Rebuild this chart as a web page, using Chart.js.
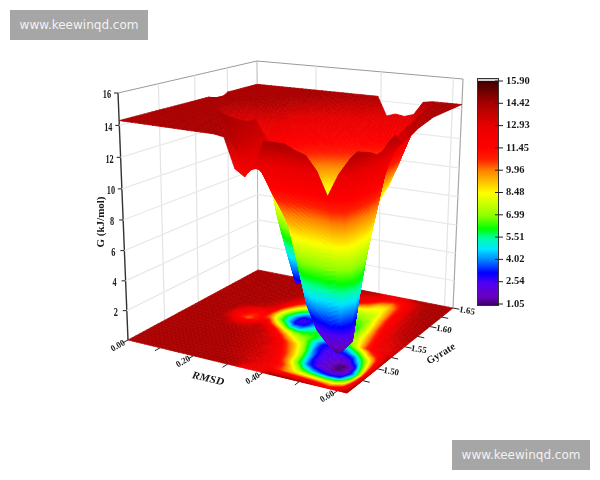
<!DOCTYPE html>
<html>
<head>
<meta charset="utf-8">
<title>G surface</title>
<script src="https://cdn.jsdelivr.net/npm/chart.js@4"></script>
<style>
    html, body { margin: 0; padding: 0; background: #fff; }
    #wrap { position: relative; width: 600px; height: 480px; overflow: hidden; }
    .mark { position: absolute; width: 138px; height: 30px; background: #a6a6a6; color: #f2f2f2;
            font: 12px/30px "DejaVu Sans", sans-serif; text-align: center; }
</style>
</head>
<body>
<div id="wrap">
    <canvas id="surfaceChart" width="600" height="480"></canvas>
    <div class="mark" style="left:10px;top:10px">www.keewinqd.com</div>
    <div class="mark" style="left:452px;top:440px">www.keewinqd.com</div>
</div>
<script>
// 축 눈금
const rmsdTicks = [0.00, 0.20, 0.40, 0.60];
const gyrateTicks = [1.50, 1.55, 1.60, 1.65];
const gTicks = [2, 4, 6, 8, 10, 12, 14, 16];
const colorbarTicks = ['15.90', '14.42', '12.93', '11.45', '9.96', '8.48', '6.99', '5.51', '4.02', '2.54', '1.05'];

// 그리드 좌표
const rmsdGrid = [0.000, 0.026, 0.052, 0.078, 0.104, 0.130, 0.156, 0.182, 0.208, 0.234, 0.260, 0.286, 0.312,
    0.339, 0.365, 0.391, 0.417, 0.443, 0.469, 0.495, 0.521, 0.547, 0.573, 0.599, 0.625];
const gyrateGrid = [1.45, 1.46, 1.47, 1.48, 1.49, 1.50, 1.51, 1.52, 1.53, 1.54, 1.55,
    1.56, 1.57, 1.58, 1.59, 1.60, 1.61, 1.62, 1.63, 1.64, 1.65];

// G 값 (행: Gyrate, 열: RMSD)
const gValues = [
    [14.3,14.3,14.3,14.3,14.3,14.3,14.3,14.3,14.3,14.3,14.3,14.3,14.2,12.4,12.0,12.8,14.3,14.3,14.3,14.0,13.8,13.0,11.6,13.0,14.0],
    [14.3,14.3,14.3,14.3,14.3,14.3,14.3,14.3,14.3,14.3,14.3,14.2,14.0,13.4,12.8,12.2,11.0,10.0,9.4,9.0,8.5,8.0,8.0,9.5,14.2],
    [14.3,14.3,14.3,14.3,14.3,14.3,14.3,14.3,14.3,14.3,14.2,14.0,13.7,13.2,13.0,12.0,10.8,8.8,6.5,4.8,3.8,3.2,3.6,6.8,14.0],
    [14.3,14.3,14.3,14.3,14.3,14.3,14.3,14.3,14.3,14.3,14.1,13.9,13.6,13.4,12.6,11.3,9.3,6.5,3.8,2.4,1.7,1.2,1.7,5.2,13.8],
    [14.3,14.3,14.3,14.3,14.3,14.3,14.3,14.3,14.3,14.2,14.0,13.8,13.4,13.0,12.0,10.5,8.6,5.5,3.0,2.2,1.6,1.05,1.8,7.0,13.5],
    [14.3,14.3,14.3,14.3,14.3,14.3,14.3,14.3,14.3,14.1,13.9,13.7,13.5,12.6,11.0,9.5,7.5,4.5,2.7,2.3,2.0,2.0,4.5,8.5,13.6],
    [14.3,14.3,14.3,14.3,14.3,14.3,14.3,14.3,14.2,14.0,13.8,13.6,13.0,11.5,10.0,8.5,6.0,3.5,2.5,2.5,2.8,4.0,6.8,9.8,14.0],
    [14.3,14.3,14.3,14.3,14.3,14.3,14.2,14.0,13.9,13.9,13.8,13.0,11.5,9.5,8.0,7.0,5.0,3.2,2.8,3.5,5.0,7.0,9.8,11.5,14.2],
    [14.3,14.3,14.3,14.3,14.3,14.1,13.0,12.5,13.0,13.9,13.0,11.0,8.8,7.2,6.6,6.5,5.5,4.5,4.5,6.0,8.0,10.5,12.0,12.6,13.6],
    [14.3,14.3,14.3,14.3,14.2,12.8,11.2,10.0,11.2,12.5,9.8,7.5,5.0,4.4,5.5,6.0,6.0,5.5,6.0,7.3,8.8,11.0,12.5,13.0,13.7],
    [14.3,14.3,14.3,14.3,14.2,12.6,11.6,10.8,11.4,9.8,7.0,4.8,2.8,3.0,4.5,5.5,6.0,6.0,6.3,7.5,9.5,11.5,12.8,13.3,13.8],
    [14.3,14.3,14.3,14.3,14.3,13.4,12.4,12.0,11.8,9.0,6.5,4.5,2.7,2.9,4.5,5.5,6.0,6.0,6.2,7.8,10.0,12.0,13.2,13.7,14.0],
    [14.3,14.3,14.3,14.3,14.3,14.3,14.0,13.6,12.8,9.6,7.3,5.5,4.2,4.2,5.2,5.5,6.0,6.2,6.6,8.2,10.6,12.5,13.5,13.9,14.1],
    [14.0,14.3,14.3,14.3,14.3,14.3,14.3,14.1,13.3,11.0,8.8,7.2,6.2,5.8,5.8,6.0,6.3,6.6,7.0,8.8,11.0,12.8,13.7,14.0,14.2],
    [14.0,14.3,14.3,14.3,14.3,14.3,14.3,14.2,13.8,12.2,10.5,9.0,8.0,7.2,6.8,6.7,7.0,7.2,7.6,9.3,11.5,13.0,13.8,14.1,14.3],
    [14.3,14.3,14.3,14.3,14.3,14.3,14.3,14.3,14.1,13.2,12.0,10.8,9.8,9.0,8.3,8.0,7.8,7.8,8.0,9.6,11.8,13.2,14.0,14.2,14.3],
    [14.3,14.3,14.3,14.3,14.3,14.3,14.3,14.3,14.3,14.0,13.0,12.2,11.5,10.8,10.0,9.6,8.8,8.4,8.4,10.0,12.0,13.5,14.1,14.3,14.3],
    [14.3,14.3,14.3,14.3,14.3,14.3,14.3,14.3,14.3,14.3,14.0,13.2,12.8,12.2,11.8,11.2,10.3,9.0,8.8,10.3,12.2,13.7,14.2,14.3,14.3],
    [14.3,14.3,14.3,14.3,14.3,14.3,14.3,14.3,14.3,14.3,14.3,14.0,13.6,13.2,13.0,12.5,11.6,10.4,10.0,11.0,12.6,13.8,14.3,14.3,14.3],
    [14.3,14.3,14.3,14.3,14.3,14.3,14.3,14.3,14.3,14.3,14.3,14.3,14.1,13.8,13.6,13.2,12.8,12.0,11.6,12.0,13.2,14.0,14.3,14.3,14.3],
    [14.3,14.3,14.3,14.3,14.3,14.3,14.3,14.3,14.3,14.3,14.3,14.3,14.3,14.3,14.3,14.3,13.0,13.2,13.1,13.3,14.2,14.3,14.3,14.3,14.3]
];

// 컬러맵
const colorLevels = [1.05, 1.6, 2.54, 3.2, 4.02, 4.8, 5.51, 6.1, 6.99, 8.48, 9.96, 10.7, 11.45, 12.93, 14.42, 15.9];
const colorValues = [[58, 0, 100], [105, 0, 190], [80, 0, 245], [0, 0, 255], [0, 128, 255], [0, 232, 255], [0, 255, 160],
    [0, 255, 0], [144, 255, 0], [255, 255, 0], [255, 128, 0], [255, 32, 0], [255, 0, 0], [232, 0, 0], [165, 0, 0], [60, 0, 0]];

// 3D 상자 투영: 바닥/천장 사각형
const floorQuad = { p00: [128, 340], p10: [347, 393], p11: [453, 308], p01: [258, 270] };
const topQuad = { p00: [118, 93], p10: [351, 123], p11: [463, 79], p01: [257, 61] };

function makeHomography(q) {
    const dx1 = q.p10[0] - q.p11[0], dx2 = q.p01[0] - q.p11[0], sx = q.p00[0] - q.p10[0] + q.p11[0] - q.p01[0];
    const dy1 = q.p10[1] - q.p11[1], dy2 = q.p01[1] - q.p11[1], sy = q.p00[1] - q.p10[1] + q.p11[1] - q.p01[1];
    const den = dx1 * dy2 - dx2 * dy1;
    const g = (sx * dy2 - dx2 * sy) / den, h = (dx1 * sy - sx * dy1) / den;
    const a = q.p10[0] - q.p00[0] + g * q.p10[0], b = q.p01[0] - q.p00[0] + h * q.p01[0];
    const d = q.p10[1] - q.p00[1] + g * q.p10[1], e = q.p01[1] - q.p00[1] + h * q.p01[1];
    return (u, v) => {
        const w = g * u + h * v + 1;
        return [(a * u + b * v + q.p00[0]) / w, (d * u + e * v + q.p00[1]) / w];
    };
}
const floorMap = makeHomography(floorQuad);
const topMap = makeHomography(topQuad);

const toU = r => r / rmsdGrid[rmsdGrid.length - 1];
const toV = g => (g - gyrateGrid[0]) / (gyrateGrid[gyrateGrid.length - 1] - gyrateGrid[0]);

function project(u, v, z) {
    const f = floorMap(u, v), t = topMap(u, v);
    // 수직 방향 원근 보정
    const s = z / 16 - 0.056 * (z / 16) * (1 - z / 16);
    return { x: f[0] + (t[0] - f[0]) * s, y: f[1] + (t[1] - f[1]) * s };
}

function colorFor(z) {
    let k = 0;
    while (k < colorLevels.length - 2 && z > colorLevels[k + 1]) k++;
    const s = Math.max(0, Math.min(1, (z - colorLevels[k]) / (colorLevels[k + 1] - colorLevels[k])));
    const a = colorValues[k], b = colorValues[k + 1];
    return `rgb(${a[0] + (b[0] - a[0]) * s | 0},${a[1] + (b[1] - a[1]) * s | 0},${a[2] + (b[2] - a[2]) * s | 0})`;
}

// 선 데이터셋 하나 만들기
function lineSet(a, b, color, width) {
    return { type: 'scatter', data: [a, b], showLine: true, borderColor: color, borderWidth: width, pointRadius: 0, fill: false };
}

// 벽 격자와 축
const wallSets = [];
gTicks.forEach(z => {
    if (z < 16) {
        wallSets.push(lineSet(project(0, 0, z), project(0, 1, z), '#e9e9e9', 1.2));
        wallSets.push(lineSet(project(0, 1, z), project(1, 1, z), '#e9e9e9', 1.2));
    }
});
gyrateTicks.slice(0, 3).forEach(g => wallSets.push(lineSet(project(0, toV(g), 0), project(0, toV(g), 16), '#e4e4e4', 1.2)));
rmsdTicks.slice(1).forEach(r => wallSets.push(lineSet(project(toU(r), 1, 0), project(toU(r), 1, 16), '#e4e4e4', 1.2)));
wallSets.push(lineSet(project(0, 0, 16), project(0, 1, 16), '#9a9a9a', 1));
wallSets.push(lineSet(project(0, 1, 16), project(1, 1, 16), '#9a9a9a', 1));
wallSets.push(lineSet(project(0, 1, 0), project(0, 1, 16), '#b5b5b5', 1));
wallSets.push(lineSet(project(1, 1, 0), project(1, 1, 16), '#a8a8a8', 1.2));
wallSets.push(lineSet(project(0, 0, 0), project(0, 0, 16), '#333333', 1.4));
gTicks.forEach(z => {
    const p = project(0, 0, z);
    wallSets.push(lineSet(p, { x: p.x - 4, y: p.y }, '#222222', 1));
});
[0, 0.1, 0.2, 0.3, 0.4, 0.5, 0.6].forEach(r => {
    const p = project(toU(r), 0, 0), q = project(toU(r), -0.035, 0);
    wallSets.push(lineSet(p, q, '#222222', 1));
});
[1.475, 1.5, 1.525, 1.55, 1.575, 1.6, 1.625, 1.65].forEach(g => {
    const p = project(1, toV(g), 0), q = project(1.03, toV(g), 0);
    wallSets.push(lineSet(p, q, '#222222', 1));
});

// 표면과 바닥 맵 노드
const surfaceNodes = [], floorNodes = [];
gyrateGrid.forEach((g, j) => {
    rmsdGrid.forEach((r, i) => {
        surfaceNodes.push(project(toU(r), toV(g), gValues[j][i]));
        floorNodes.push(project(toU(r), toV(g), 0));
    });
});

const nodeSet = data => ({ type: 'scatter', data: data, pointRadius: 0, showLine: false });
const floorIndex = wallSets.length, surfaceIndex = wallSets.length + 1;

// 셀을 뒤에서 앞으로 칠하기
function paintCells(chart, index) {
    const ctx = chart.ctx;
    const pts = chart.getDatasetMeta(index).data;
    const ni = rmsdGrid.length, nj = gyrateGrid.length;
    ctx.save();
    ctx.lineWidth = 0.7;
    for (let j = nj - 2; j >= 0; j--) {
        for (let i = 0; i < ni - 1; i++) {
            const a = pts[j * ni + i], b = pts[j * ni + i + 1], c = pts[(j + 1) * ni + i + 1], d = pts[(j + 1) * ni + i];
            const za = gValues[j][i], zb = gValues[j][i + 1], zc = gValues[j + 1][i + 1], zd = gValues[j + 1][i];
            const range = Math.max(za, zb, zc, zd) - Math.min(za, zb, zc, zd);
            const n = Math.max(2, Math.min(30, Math.ceil(range / 0.3)));
            const at = (s, t) => ({
                x: (a.x * (1 - s) + b.x * s) * t + (d.x * (1 - s) + c.x * s) * (1 - t),
                y: (a.y * (1 - s) + b.y * s) * t + (d.y * (1 - s) + c.y * s) * (1 - t)
            });
            for (let m = 0; m < n; m++) {
                for (let k = 0; k < n; k++) {
                    const s0 = k / n, s1 = (k + 1) / n, t0 = m / n, t1 = (m + 1) / n;
                    const sm = (s0 + s1) / 2, tm = (t0 + t1) / 2;
                    const z = (za * (1 - sm) + zb * sm) * tm + (zd * (1 - sm) + zc * sm) * (1 - tm);
                    const color = colorFor(z);
                    const p1 = at(s0, t0), p2 = at(s1, t0), p3 = at(s1, t1), p4 = at(s0, t1);
                    ctx.fillStyle = color;
                    ctx.strokeStyle = color;
                    ctx.beginPath();
                    ctx.moveTo(p1.x, p1.y);
                    ctx.lineTo(p2.x, p2.y);
                    ctx.lineTo(p3.x, p3.y);
                    ctx.lineTo(p4.x, p4.y);
                    ctx.closePath();
                    ctx.fill();
                    ctx.stroke();
                }
            }
        }
    }
    ctx.restore();
}

function drawLabel(ctx, text, x, y, angle, font, squeeze) {
    ctx.save();
    ctx.translate(x, y);
    ctx.rotate(angle * Math.PI / 180);
    ctx.scale(squeeze, 1);
    ctx.font = font;
    ctx.fillStyle = '#1a1a1a';
    ctx.textAlign = 'center';
    ctx.textBaseline = 'middle';
    ctx.fillText(text, 0, 0);
    ctx.restore();
}

const surfacePlugin = {
    id: 'surfacePlugin',
    afterDatasetsDraw(chart) {
        paintCells(chart, floorIndex);
        paintCells(chart, surfaceIndex);
    },
    afterDraw(chart) {
        const ctx = chart.ctx;
        const sy = chart.scales.y, sx = chart.scales.x;
        const serif = '"Liberation Serif", serif';

        // 눈금 글자
        gTicks.forEach(z => {
            const p = project(0, 0, z);
            drawLabel(ctx, String(z), sx.getPixelForValue(p.x) - 11, sy.getPixelForValue(p.y) + 2.5, 0, `bold 11.5px ${serif}`, 0.72);
        });
        rmsdTicks.forEach(r => {
            const p = project(toU(r), 0, 0);
            drawLabel(ctx, r.toFixed(2), sx.getPixelForValue(p.x) - 10, sy.getPixelForValue(p.y) + 6, -30, `bold 9px ${serif}`, 0.95);
        });
        gyrateTicks.forEach(g => {
            const p = project(1, toV(g), 0);
            drawLabel(ctx, g.toFixed(2), sx.getPixelForValue(p.x) + 14, sy.getPixelForValue(p.y) + 3, 10, `bold 9px ${serif}`, 1);
        });

        // 축 제목
        drawLabel(ctx, 'RMSD', 208, 379, 13, `italic bold 10.5px ${serif}`, 1.1);
        drawLabel(ctx, 'Gyrate', 441, 354, -31, `bold 10.5px ${serif}`, 1);
        drawLabel(ctx, 'G (kJ/mol)', 101, 222, -90, `bold 11px ${serif}`, 1);

        // 컬러바
        const top = 80, bottom = 305, left = 477, right = 499;
        for (let y = top; y < bottom; y++) {
            const z = 15.9 - (y - top) / (bottom - top) * (15.9 - 1.05);
            ctx.fillStyle = colorFor(z);
            ctx.fillRect(left, y, right - left, 1);
        }
        ctx.fillStyle = '#d8d0d0';
        ctx.fillRect(left, top - 1, right - left, 2);
        ctx.strokeStyle = '#333333';
        ctx.lineWidth = 1;
        ctx.strokeRect(left + 0.5, top - 1.5, right - left - 1, bottom - top + 2);
        colorbarTicks.forEach((label, k) => {
            const y = top + 1 + k * (bottom - top - 2) / (colorbarTicks.length - 1);
            ctx.beginPath();
            ctx.moveTo(right - 4, y);
            ctx.lineTo(right + 4, y);
            ctx.strokeStyle = '#222222';
            ctx.stroke();
            ctx.font = `bold 10.5px ${serif}`;
            ctx.fillStyle = '#1a1a1a';
            ctx.textAlign = 'left';
            ctx.textBaseline = 'middle';
            ctx.fillText(label, right + 7, y);
        });
    }
};

new Chart(document.getElementById('surfaceChart'), {
    type: 'scatter',
    data: { datasets: [...wallSets, nodeSet(floorNodes), nodeSet(surfaceNodes)] },
    options: {
        responsive: false,
        animation: false,
        layout: { padding: 0 },
        plugins: { legend: { display: false }, tooltip: { enabled: false } },
        scales: {
            x: { type: 'linear', min: 0, max: 600, display: false },
            y: { type: 'linear', min: 0, max: 480, reverse: true, display: false }
        }
    },
    plugins: [surfacePlugin]
});
</script>
</body>
</html>
